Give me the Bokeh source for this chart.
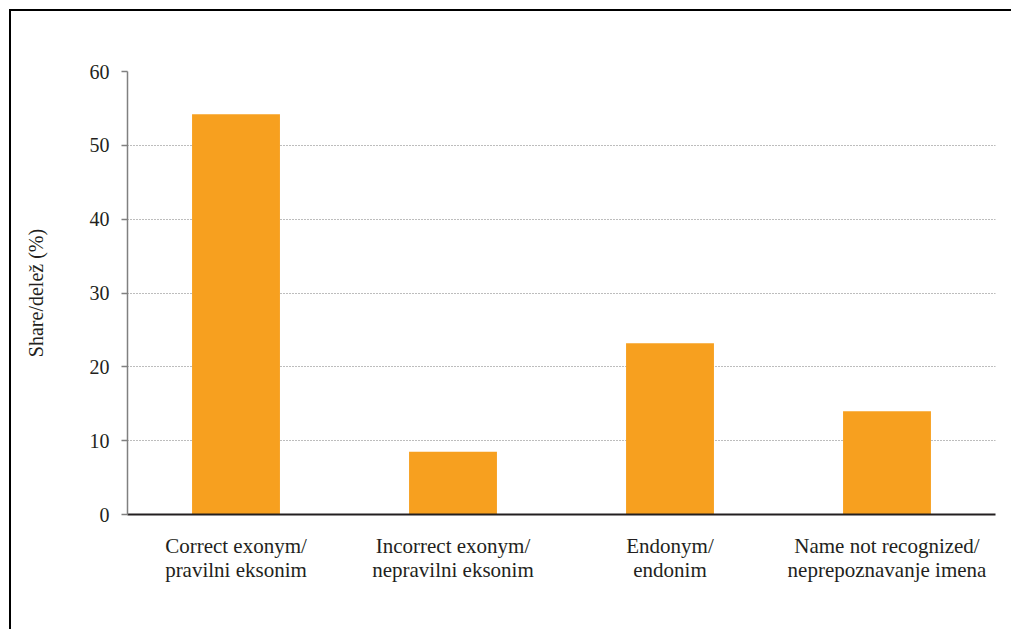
from bokeh.plotting import figure
from bokeh.models import ColumnDataSource, FixedTicker
from bokeh.embed import file_html
from bokeh.resources import INLINE

# Answer categories (English / Slovene) and their shares in percent
categories = [
    "Correct exonym/\npravilni eksonim",
    "Incorrect exonym/\nnepravilni eksonim",
    "Endonym/\nendonim",
    "Name not recognized/\nneprepoznavanje imena",
]
shares = [54.2, 8.5, 23.2, 14.0]
y_ticks = [0, 10, 20, 30, 40, 50, 60]

FONT = "Liberation Serif"
TEXT = "#231f20"
BAR = "#f7a01f"

source = ColumnDataSource(data=dict(cat=categories, share=shares))

p = figure(
    x_range=categories,
    y_range=(0, 60),
    width=1011,
    height=629,
    output_backend="svg",
    toolbar_location=None,
    min_border_left=127,
    min_border_top=71,
    min_border_right=16,
    min_border_bottom=115,
)
# page frame: black strips along the top and left edges, painted behind the canvas
p.styles = {
    "background": (
        "linear-gradient(#000, #000) 9px 9px / 100% 2px no-repeat, "
        "linear-gradient(#000, #000) 9px 9px / 2px 100% no-repeat, "
        "#ffffff"
    ),
}

p.vbar(x="cat", top="share", width=0.405, source=source,
       fill_color=BAR, line_color=None)

p.outline_line_color = None
p.background_fill_color = "white"
p.border_fill_color = None

# y axis
p.yaxis.ticker = FixedTicker(ticks=y_ticks)
p.yaxis.axis_line_color = "#808080"
p.yaxis.axis_line_width = 1.5
p.yaxis.major_tick_line_color = "#808080"
p.yaxis.major_tick_line_width = 1.5
p.yaxis.major_tick_out = 6
p.yaxis.major_tick_in = 0
p.yaxis.minor_tick_line_color = None
p.yaxis.major_label_text_font = FONT
p.yaxis.major_label_text_font_size = "20px"
p.yaxis.major_label_text_color = TEXT
p.yaxis.major_label_standoff = 12
p.yaxis.axis_label = "Share/delež (%)"
p.yaxis.axis_label_text_font = FONT
p.yaxis.axis_label_text_font_size = "20px"
p.yaxis.axis_label_text_font_style = "normal"
p.yaxis.axis_label_text_color = TEXT
p.yaxis.axis_label_standoff = 40

# x axis
p.xaxis.axis_line_color = TEXT
p.xaxis.axis_line_width = 2
p.xaxis.major_tick_line_color = None
p.xaxis.minor_tick_line_color = None
p.xaxis.major_label_text_font = FONT
p.xaxis.major_label_text_font_size = "21px"
p.xaxis.major_label_text_color = TEXT
p.xaxis.major_label_text_line_height = 1.0
p.xaxis.major_label_standoff = 13

# dotted horizontal grid
p.xgrid.grid_line_color = None
p.ygrid.grid_line_color = "#7a7a7a"
p.ygrid.grid_line_dash = "1 2"
p.ygrid.grid_line_width = 1

open("out.html", "w").write(file_html(p, INLINE))
